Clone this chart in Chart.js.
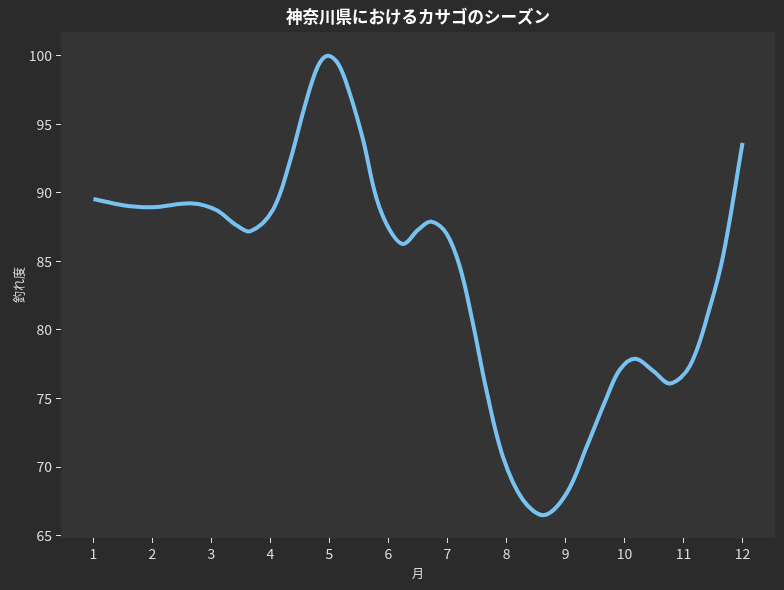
<!DOCTYPE html>
<html>
<head>
<meta charset="utf-8">
<script src="https://cdn.jsdelivr.net/npm/chart.js@4"></script>
<style>
  html, body { margin: 0; padding: 0; background: #2b2b2b; }
  #wrap { width: 784px; height: 590px; }
</style>
</head>
<body>
<div id="wrap"><canvas id="chart" width="784" height="590"></canvas></div>
<script>
// 月 (図から読み取った位置)
const months = [1.0, 1.5, 2.0, 2.68, 3.08, 3.42, 3.66, 4.04, 4.32, 4.58, 4.8, 4.97, 5.15,
    5.34, 5.57, 5.79, 6.02, 6.25, 6.5, 6.73, 6.98, 7.21, 7.43, 7.66, 7.94,
    8.28, 8.64, 9.02, 9.36, 9.7, 9.92, 10.18, 10.49, 10.77, 11.11, 11.45, 11.68, 12.0];
// 釣れ度
const catchScore = [89.55, 89.1, 88.95, 89.23, 88.75, 87.65, 87.2, 88.75, 92.15, 96.3, 99.2, 100.0, 99.4,
    97.3, 93.85, 89.7, 87.3, 86.27, 87.3, 87.9, 87.05, 84.6, 80.5, 75.6, 70.75,
    67.6, 66.5, 68.1, 71.5, 75.1, 77.1, 77.9, 77.0, 76.1, 77.4, 81.7, 85.6, 93.65];
const xTicks = [1, 2, 3, 4, 5, 6, 7, 8, 9, 10, 11, 12];
const yTicks = [65, 70, 75, 80, 85, 90, 95, 100];

const titleText = '神奈川県におけるカサゴのシーズン';
const tickFont = { family: "'Liberation Sans Narrow', 'Noto Sans CJK JP'", size: 14 };
const labelFont = { family: "'Noto Sans CJK JP'", size: 12 };

// 背景とタイトル
const bgPlugin = {
    id: 'bg',
    beforeDraw(chart) {
        const { ctx, chartArea: a } = chart;
        ctx.save();
        ctx.fillStyle = '#2b2b2b';
        ctx.fillRect(0, 0, chart.width, chart.height);
        ctx.fillStyle = '#343434';
        ctx.fillRect(a.left, a.top, a.right - a.left, a.bottom - a.top);
        ctx.fillStyle = '#ffffff';
        ctx.font = "bold 16.5px 'Noto Sans CJK JP'";
        ctx.textAlign = 'center';
        ctx.textBaseline = 'middle';
        ctx.fillText(titleText, (a.left + a.right) / 2, 17);
        ctx.restore();
    }
};

new Chart(document.getElementById('chart'), {
    type: 'line',
    data: {
        datasets: [{
            data: months.map((m, i) => ({ x: m, y: catchScore[i] })),
            borderColor: '#78c2f2',
            borderWidth: 4,
            pointRadius: 0,
            fill: false,
            tension: 0.35,
            borderCapStyle: 'butt'
        }]
    },
    options: {
        responsive: false,
        animation: false,
        layout: { padding: { top: 32, right: 9, left: 0, bottom: 0 } },
        plugins: { legend: { display: false }, tooltip: { enabled: false } },
        scales: {
            x: {
                type: 'linear',
                min: 0.45,
                max: 12.55,
                afterBuildTicks: s => { s.ticks = xTicks.map(v => ({ value: v })); },
                afterFit: s => { s.height = 52; },
                border: { display: false },
                grid: { drawOnChartArea: false, drawTicks: true, tickLength: 5, color: '#e0e0e0', lineWidth: 1 },
                ticks: { color: '#dcdcdc', font: tickFont, padding: 2, maxRotation: 0 },
                title: { display: true, text: '月', color: '#dcdcdc', font: labelFont, padding: { top: 0, bottom: 9 } }
            },
            y: {
                min: 64.83,
                max: 101.73,
                afterBuildTicks: s => { s.ticks = yTicks.map(v => ({ value: v })); },
                afterFit: s => { s.width = 61; },
                border: { display: false },
                grid: { drawOnChartArea: false, drawTicks: true, tickLength: 5, color: '#e0e0e0', lineWidth: 1 },
                ticks: { color: '#dcdcdc', font: tickFont, padding: 4 },
                title: { display: true, text: '釣れ度', color: '#dcdcdc', font: labelFont, padding: { top: 12, bottom: 0 } }
            }
        }
    },
    plugins: [bgPlugin]
});
</script>
</body>
</html>
